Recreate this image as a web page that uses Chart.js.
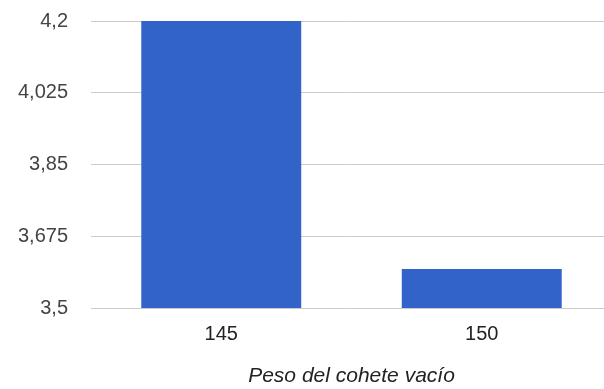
<!DOCTYPE html>
<html>
<head>
<meta charset="utf-8">
<script src="https://cdn.jsdelivr.net/npm/chart.js@4"></script>
<style>
  html, body { margin: 0; padding: 0; background: #fff; overflow: hidden; }
  #wrap { width: 612px; height: 403px; margin-top: -14px; }
</style>
</head>
<body>
<div id="wrap"><canvas id="chart"></canvas></div>
<script>
const categories = ['145', '150'];
const values = [4.2, 3.595];
const tickValues = [3.5, 3.675, 3.85, 4.025, 4.2];
const tickLabels = ['3,5', '3,675', '3,85', '4,025', '4,2'];
const axisTitle = 'Peso del cohete vacío';

const ctx = document.getElementById('chart').getContext('2d');
new Chart(ctx, {
    type: 'bar',
    data: {
        labels: categories,
        datasets: [{
            data: values,
            backgroundColor: '#3163c9',
            borderWidth: 0,
            barPercentage: 0.614,
            categoryPercentage: 1
        }]
    },
    options: {
        responsive: true,
        maintainAspectRatio: false,
        animation: false,
        layout: { padding: 0 },
        plugins: {
            legend: { display: false },
            tooltip: { enabled: false }
        },
        scales: {
            x: {
                grid: { display: false, drawTicks: false },
                border: { display: false },
                ticks: {
                    color: '#222',
                    padding: 14,
                    font: { family: 'Liberation Sans, Arial', size: 20 }
                },
                title: {
                    display: true,
                    text: axisTitle,
                    color: '#222',
                    padding: { top: 10, bottom: 0 },
                    font: { family: 'Liberation Sans, Arial', size: 21, style: 'italic' }
                },
                afterFit: (scale) => { scale.height = 81; }
            },
            y: {
                min: 3.5,
                max: 4.2,
                grid: { color: '#cccccc', drawTicks: false },
                border: { display: false },
                afterBuildTicks: (scale) => {
                    scale.ticks = tickValues.map(v => ({ value: v }));
                },
                ticks: {
                    color: '#444',
                    padding: 23,
                    font: { family: 'Liberation Sans, Arial', size: 20 },
                    callback: (value, index) => tickLabels[index]
                },
                afterFit: (scale) => { scale.width = 91; }
            }
        }
    }
});
</script>
</body>
</html>
